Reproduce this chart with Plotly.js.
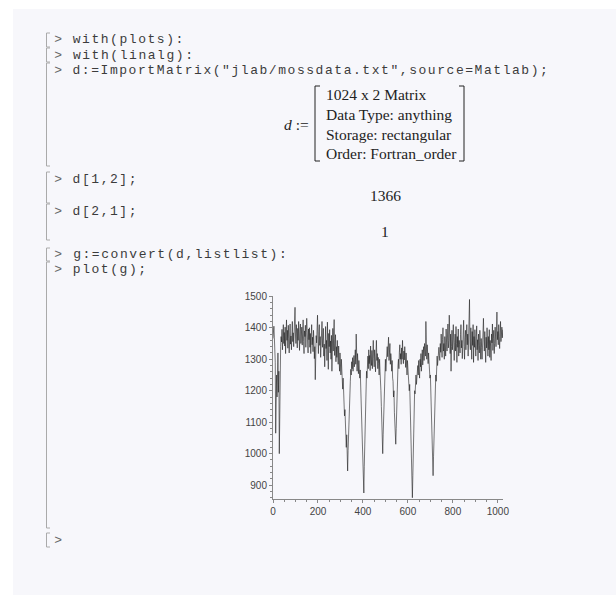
<!DOCTYPE html>
<html>
<head>
<meta charset="utf-8">
<script src="https://cdn.plot.ly/plotly-3.0.1.min.js"></script>
<style>
html,body{margin:0;padding:0;background:#fff;}
#chart{width:616px;height:595px;}
#chart .annotation-text[style*="Liberation Mono"]{letter-spacing:1.55px;}
</style>
</head>
<body>
<div id="chart"></div>
<script>
// ---- data: Mossbauer counts (every 2nd channel) ----
const channelStep = 2;
const counts = [
  1366,1392,1405,1370,1338,1290,1065,1215,1250,1180,1230,1320,1195,1262,1000,1205,
  1290,1340,1372,1355,1395,1330,1368,1410,1350,1385,1342,1402,1318,1376,1425,1360,
  1392,1335,1408,1366,1320,1388,1412,1348,1374,1330,1396,1420,1356,1384,1340,1405,
  1432,1465,1380,1350,1410,1372,1336,1398,1360,1420,1382,1328,1394,1412,1350,1378,
  1402,1345,1368,1425,1356,1318,1390,1372,1408,1338,1384,1430,1352,1376,1320,1396,
  1362,1400,1338,1382,1318,1374,1410,1346,1370,1324,1392,1358,1302,1340,1235,1330,
  1375,1352,1402,1440,1362,1318,1388,1410,1344,1372,1306,1390,1352,1420,1338,1364,
  1398,1310,1348,1276,1372,1404,1334,1360,1296,1418,1346,1268,1382,1340,1394,1320,
  1358,1300,1376,1262,1344,1398,1326,1364,1426,1312,1350,1378,1292,1340,1306,1360,
  1318,1284,1342,1300,1262,1320,1286,1250,1300,1232,1262,1205,1240,1176,1150,1120,
  1140,1080,1105,1020,1060,990,945,1010,1070,1120,1180,1160,1230,1268,1250,1292,
  1270,1305,1262,1290,1312,1276,1300,1330,1284,1380,1300,1262,1318,1290,1254,1296,
  1272,1240,1266,1210,1190,1140,1100,1060,990,920,875,960,1050,1120,1170,1230,
  1262,1240,1296,1310,1270,1330,1286,1312,1264,1342,1300,1280,1328,1270,1316,1360,
  1302,1276,1330,1292,1260,1320,1360,1296,1318,1270,1306,1286,1250,1300,1262,1240,
  1200,1150,1090,1040,1000,1060,1120,1180,1230,1270,1300,1262,1320,1296,1340,1308,
  1330,1370,1296,1322,1350,1284,1318,1300,1262,1296,1240,1230,1180,1200,1130,1090,
  1060,1030,1080,1150,1200,1240,1282,1300,1270,1322,1346,1300,1318,1284,1336,1300,
  1360,1310,1286,1326,1298,1340,1310,1274,1320,1290,1250,1296,1262,1230,1250,1200,
  1220,1160,1140,1080,1040,960,860,930,1010,1100,1140,1200,1190,1238,1250,1220,
  1262,1236,1280,1250,1296,1262,1240,1300,1276,1318,1262,1290,1330,1282,1310,1340,
  1296,1350,1330,1310,1420,1336,1300,1346,1310,1286,1320,1262,1290,1240,1250,1200,
  1150,1100,1040,970,930,990,1060,1100,1150,1190,1250,1230,1290,1310,1280,1320,
  1300,1338,1312,1296,1350,1322,1380,1330,1306,1362,1400,1326,1350,1300,1372,1346,
  1310,1396,1352,1326,1374,1412,1336,1360,1440,1350,1318,1380,1262,1340,1392,1330,
  1364,1410,1322,1296,1352,1380,1326,1404,1350,1290,1372,1338,1396,1310,1360,1346,
  1320,1378,1410,1336,1360,1302,1390,1352,1424,1340,1300,1368,1392,1330,1356,1410,
  1346,1380,1310,1362,1420,1490,1352,1330,1400,1366,1300,1388,1344,1410,1290,1372,
  1338,1394,1350,1310,1372,1406,1330,1362,1296,1380,1344,1320,1392,1356,1300,1366,
  1338,1300,1378,1350,1430,1362,1326,1388,1344,1290,1370,1336,1400,1352,1310,1372,
  1330,1394,1306,1360,1342,1296,1380,1352,1412,1328,1366,1392,1318,1350,1402,1376,
  1340,1396,1450,1362,1388,1346,1410,1372,1334,1398,1420,1356,1390,1402,1368,1394
];
const channels = counts.map((_, i) => i * channelStep);
const xTicks = [0, 200, 400, 600, 800, 1000];
const yTicks = [900, 1000, 1100, 1200, 1300, 1400, 1500];

// worksheet text
const codeLines = [
  {t: 'with(plots):', y: 40},
  {t: 'with(linalg):', y: 55.3},
  {t: 'd:=ImportMatrix("jlab/mossdata.txt",source=Matlab);', y: 70.6},
  {t: 'd[1,2];', y: 179},
  {t: 'd[2,1];', y: 211},
  {t: 'g:=convert(d,listlist):', y: 254.5},
  {t: 'plot(g);', y: 269.5},
  {t: '', y: 540}
];
const matrixLines = ['1024 x 2 Matrix', 'Data Type: anything', 'Storage: rectangular', 'Order: Fortran_order'];
const results = [{t: '1366', y: 196}, {t: '1', y: 232}];
const groups = [[33,47],[48,62],[63,166],[172,203],[204,240],[248,261],[262,528],[533,547]];

// ---- layout helpers ----
const W = 616, H = 595;
const px = x => x / W;
const py = y => 1 - y / H;
const CH = 9.35;           // advance of one code character
const CODE_X = 72.5;        // left edge of code text
const PROMPT_X = 58.5;      // centre of the '>' prompt

const annotations = [];
const shapes = [];
shapes.push({type:'rect', xref:'paper', yref:'paper', x0:px(13), x1:1, y0:0, y1:py(9),
  fillcolor:'#f7f7fb', line:{width:0}, layer:'below'});
codeLines.forEach(l => {
  annotations.push({xref:'paper', yref:'paper', x:px(PROMPT_X), y:py(l.y), xanchor:'center', yanchor:'middle',
    text:'&gt;', showarrow:false, font:{family:'Liberation Mono', size:13, color:'#666'}});
  if (l.t) annotations.push({xref:'paper', yref:'paper', x:px(CODE_X + l.t.length * CH / 2), y:py(l.y),
    xanchor:'center', yanchor:'middle',
    text:l.t, showarrow:false, font:{family:'Liberation Mono', size:13, color:'#3c3c3c'}});
});
groups.forEach(g => {
  const c = '#aaaaaa';
  shapes.push({type:'line', xref:'paper', yref:'paper', x0:px(46.5), x1:px(46.5), y0:py(g[0]), y1:py(g[1]), line:{color:c, width:1}});
  shapes.push({type:'line', xref:'paper', yref:'paper', x0:px(46.5), x1:px(50), y0:py(g[0]), y1:py(g[0]), line:{color:c, width:1}});
  shapes.push({type:'line', xref:'paper', yref:'paper', x0:px(46.5), x1:px(50), y0:py(g[1]), y1:py(g[1]), line:{color:c, width:1}});
});
// matrix output
const mTop = 86, mBot = 161, mL = 315, mR = 464;
[[mL, mL+5],[mR, mR-5]].forEach(([x, xt]) => {
  shapes.push({type:'line', xref:'paper', yref:'paper', x0:px(x), x1:px(x), y0:py(mTop), y1:py(mBot), line:{color:'#222', width:1}});
  shapes.push({type:'line', xref:'paper', yref:'paper', x0:px(x), x1:px(xt), y0:py(mTop), y1:py(mTop), line:{color:'#222', width:1}});
  shapes.push({type:'line', xref:'paper', yref:'paper', x0:px(x), x1:px(xt), y0:py(mBot), y1:py(mBot), line:{color:'#222', width:1}});
});
matrixLines.forEach((t, i) => {
  annotations.push({xref:'paper', yref:'paper', x:px(324), y:py(95 + i*19.5), xanchor:'left', yanchor:'middle',
    text:t, showarrow:false, font:{family:'Liberation Serif', size:15.5, color:'#222'}});
});
annotations.push({xref:'paper', yref:'paper', x:px(311), y:py(124), xanchor:'right', yanchor:'middle',
  text:'<i>d</i> :=', showarrow:false, font:{family:'Liberation Serif', size:15.5, color:'#222'}});
results.forEach(r => {
  annotations.push({xref:'paper', yref:'paper', x:px(385), y:py(r.y), xanchor:'center', yanchor:'middle',
    text:r.t, showarrow:false, font:{family:'Liberation Serif', size:15.5, color:'#222'}});
});

const axisCol = '#888';
const trace = {x: channels, y: counts, type:'scatter', mode:'lines',
  line:{color:'#1e1e1e', width:0.6}, hoverinfo:'skip'};
const layout = {
  width: W, height: H, margin:{l:0, r:0, t:0, b:0},
  paper_bgcolor:'#ffffff', plot_bgcolor:'rgba(0,0,0,0)', showlegend:false,
  xaxis:{domain:[px(273), px(503)], range:[0, 1023], showgrid:false, zeroline:false,
    showline:true, linecolor:axisCol, linewidth:1, ticks:'outside', ticklen:3, tickcolor:axisCol,
    tickvals:xTicks, ticktext:xTicks.map(String), tickfont:{family:'Liberation Sans', size:10, color:'#444'},
    minor:{dtick:50, tick0:0, ticks:'outside', ticklen:2, tickcolor:axisCol}, fixedrange:true},
  yaxis:{domain:[py(499.3), py(296.3)], range:[855, 1500], showgrid:false, zeroline:false,
    showline:true, linecolor:axisCol, linewidth:1, ticks:'outside', ticklen:3, tickcolor:axisCol,
    tickvals:yTicks, ticktext:yTicks.map(String), tickfont:{family:'Liberation Sans', size:10, color:'#444'},
    minor:{dtick:20, tick0:0, ticks:'outside', ticklen:2, tickcolor:axisCol}, fixedrange:true},
  shapes, annotations
};
Plotly.newPlot('chart', [trace], layout, {staticPlot:true, displayModeBar:false});
</script>
</body>
</html>
